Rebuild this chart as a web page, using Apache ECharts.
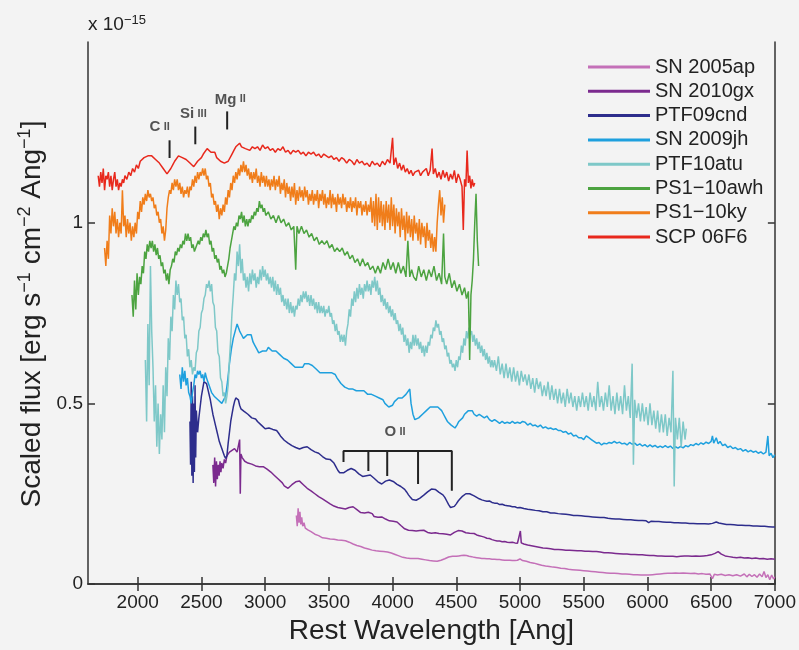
<!DOCTYPE html>
<html>
<head>
<meta charset="utf-8">
<script src="https://cdn.jsdelivr.net/npm/echarts@6/dist/echarts.min.js"></script>
<style>
html,body{margin:0;padding:0;background:#f3f3f3;}
#chart{width:799px;height:650px;}
</style>
</head>
<body>
<div id="chart"></div>
<script>
// ---------- data (wavelength [Ang], scaled flux x1e-15) ----------
const seriesNames = ['SN 2005ap','SN 2010gx','PTF09cnd','SN 2009jh','PTF10atu','PS1\u221210awh','PS1\u221210ky','SCP 06F6'];
const xTicks = [2000,2500,3000,3500,4000,4500,5000,5500,6000,6500,7000];
const yTicks = [0,0.5,1];

const sn2005ap = [[3245,0.19],[3252,0.16],[3259,0.21],[3266,0.17],[3273,0.20],[3280,0.165],[3287,0.185],[3295,0.16],[3305,0.17],[3315,0.155],[3325,0.16],[3335,0.15],[3345,0.152],[3360,0.145],[3375,0.142],[3390,0.138],[3405,0.136],[3420,0.134],[3435,0.131],[3450,0.128],[3465,0.13],[3480,0.127],[3495,0.128],[3510,0.125],[3525,0.127],[3540,0.124],[3555,0.125],[3570,0.122],[3585,0.12],[3600,0.121],[3615,0.119],[3630,0.12],[3645,0.117],[3660,0.116],[3675,0.113],[3690,0.111],[3705,0.109],[3720,0.107],[3735,0.106],[3750,0.104],[3765,0.102],[3780,0.1],[3795,0.099],[3810,0.097],[3825,0.096],[3840,0.094],[3855,0.093],[3870,0.092],[3885,0.093],[3900,0.091],[3915,0.092],[3930,0.09],[3945,0.091],[3960,0.089],[3975,0.088],[3990,0.086],[4005,0.084],[4020,0.082],[4035,0.08],[4050,0.078],[4065,0.076],[4080,0.074],[4095,0.073],[4110,0.072],[4125,0.071],[4140,0.071],[4155,0.07],[4170,0.071],[4185,0.07],[4200,0.071],[4215,0.07],[4230,0.069],[4245,0.068],[4260,0.067],[4275,0.066],[4290,0.065],[4305,0.064],[4320,0.064],[4335,0.063],[4350,0.063],[4365,0.064],[4380,0.066],[4395,0.068],[4410,0.07],[4425,0.073],[4440,0.075],[4455,0.077],[4470,0.077],[4485,0.078],[4500,0.077],[4520,0.078],[4540,0.079],[4560,0.08],[4580,0.079],[4600,0.077],[4620,0.076],[4640,0.074],[4660,0.073],[4680,0.072],[4700,0.071],[4720,0.071],[4740,0.07],[4760,0.07],[4780,0.069],[4800,0.069],[4820,0.068],[4840,0.068],[4860,0.067],[4880,0.066],[4900,0.066],[4920,0.066],[4940,0.065],[4960,0.065],[4980,0.066],[5000,0.07],[5020,0.065],[5050,0.063],[5080,0.06],[5110,0.058],[5140,0.055],[5170,0.052],[5200,0.05],[5230,0.049],[5260,0.047],[5290,0.046],[5320,0.044],[5350,0.043],[5380,0.041],[5410,0.04],[5440,0.039],[5470,0.038],[5500,0.037],[5530,0.036],[5560,0.035],[5590,0.034],[5620,0.033],[5650,0.032],[5680,0.031],[5710,0.03],[5740,0.03],[5770,0.029],[5800,0.028],[5830,0.028],[5860,0.027],[5890,0.026],[5920,0.026],[5950,0.025],[5980,0.025],[6010,0.025],[6040,0.026],[6070,0.027],[6100,0.028],[6130,0.029],[6160,0.03],[6190,0.03],[6220,0.031],[6250,0.03],[6280,0.031],[6310,0.03],[6340,0.029],[6370,0.03],[6400,0.028],[6430,0.029],[6460,0.027],[6490,0.028],[6510,0.015],[6525,0.027],[6550,0.025],[6580,0.027],[6610,0.024],[6640,0.026],[6670,0.023],[6700,0.026],[6730,0.022],[6760,0.028],[6780,0.02],[6800,0.027],[6820,0.021],[6840,0.026],[6860,0.019],[6880,0.028],[6900,0.02],[6915,0.035],[6930,0.018],[6945,0.026],[6960,0.012],[6975,0.025],[6990,0.014],[7000,0.02]];

const sn2010gx = [[2590,0.33],[2597,0.28],[2604,0.35],[2611,0.27],[2618,0.34],[2625,0.29],[2632,0.33],[2639,0.30],[2646,0.34],[2653,0.31],[2660,0.335],[2670,0.32],[2680,0.345],[2690,0.335],[2700,0.355],[2710,0.35],[2720,0.365],[2730,0.36],[2740,0.37],[2750,0.365],[2760,0.375],[2770,0.37],[2780,0.365],[2790,0.36],[2800,0.40],[2805,0.25],[2810,0.36],[2820,0.35],[2830,0.345],[2840,0.34],[2850,0.338],[2865,0.335],[2880,0.338],[2895,0.332],[2910,0.33],[2925,0.327],[2940,0.33],[2955,0.325],[2970,0.322],[2985,0.325],[3000,0.32],[3015,0.318],[3030,0.315],[3045,0.31],[3060,0.305],[3075,0.3],[3090,0.295],[3105,0.29],[3120,0.285],[3135,0.28],[3150,0.272],[3165,0.268],[3180,0.265],[3195,0.27],[3210,0.275],[3225,0.28],[3240,0.283],[3255,0.28],[3270,0.285],[3285,0.28],[3300,0.275],[3315,0.27],[3330,0.265],[3345,0.262],[3360,0.258],[3375,0.255],[3390,0.25],[3405,0.246],[3420,0.242],[3435,0.238],[3450,0.236],[3465,0.232],[3480,0.229],[3495,0.226],[3510,0.222],[3525,0.219],[3540,0.216],[3555,0.214],[3570,0.212],[3585,0.21],[3600,0.21],[3615,0.212],[3630,0.208],[3645,0.21],[3660,0.212],[3675,0.209],[3690,0.214],[3705,0.211],[3720,0.206],[3735,0.203],[3750,0.198],[3765,0.2],[3780,0.197],[3795,0.202],[3810,0.199],[3825,0.2],[3840,0.195],[3855,0.187],[3870,0.183],[3885,0.185],[3900,0.188],[3915,0.186],[3930,0.184],[3945,0.18],[3960,0.177],[3975,0.175],[3990,0.177],[4005,0.174],[4020,0.176],[4035,0.172],[4050,0.168],[4065,0.162],[4080,0.157],[4095,0.153],[4110,0.15],[4125,0.149],[4140,0.151],[4155,0.148],[4170,0.15],[4185,0.147],[4200,0.15],[4215,0.148],[4230,0.146],[4245,0.149],[4260,0.145],[4275,0.143],[4290,0.146],[4305,0.141],[4320,0.139],[4335,0.142],[4350,0.137],[4365,0.14],[4380,0.136],[4395,0.139],[4410,0.135],[4425,0.138],[4440,0.134],[4455,0.136],[4470,0.14],[4485,0.143],[4500,0.146],[4515,0.148],[4530,0.149],[4545,0.147],[4560,0.144],[4575,0.142],[4590,0.14],[4605,0.141],[4620,0.139],[4640,0.14],[4660,0.136],[4680,0.134],[4700,0.132],[4720,0.13],[4740,0.127],[4760,0.126],[4780,0.123],[4800,0.121],[4820,0.119],[4840,0.119],[4860,0.117],[4880,0.118],[4900,0.116],[4920,0.115],[4940,0.116],[4960,0.114],[4980,0.113],[4995,0.115],[5003,0.147],[5010,0.114],[5030,0.111],[5060,0.108],[5090,0.106],[5120,0.104],[5150,0.102],[5180,0.1],[5210,0.099],[5240,0.098],[5270,0.096],[5300,0.096],[5330,0.095],[5360,0.094],[5390,0.094],[5420,0.093],[5450,0.092],[5480,0.092],[5510,0.091],[5540,0.091],[5570,0.09],[5600,0.09],[5630,0.089],[5660,0.087],[5690,0.087],[5720,0.086],[5750,0.085],[5780,0.084],[5810,0.083],[5840,0.083],[5870,0.082],[5900,0.082],[5930,0.081],[5960,0.081],[5990,0.08],[6020,0.079],[6050,0.079],[6080,0.078],[6110,0.078],[6140,0.077],[6170,0.077],[6200,0.077],[6230,0.076],[6260,0.077],[6290,0.078],[6320,0.078],[6350,0.077],[6380,0.078],[6410,0.077],[6440,0.078],[6470,0.079],[6500,0.081],[6530,0.085],[6555,0.09],[6580,0.083],[6610,0.078],[6640,0.076],[6670,0.074],[6700,0.073],[6730,0.074],[6760,0.072],[6790,0.073],[6820,0.071],[6850,0.072],[6880,0.07],[6910,0.071],[6940,0.069],[6970,0.07],[7000,0.069]];

const ptf09cnd = [[2410,0.45],[2415,0.33],[2420,0.56],[2425,0.30],[2430,0.52],[2435,0.28],[2440,0.50],[2445,0.31],[2450,0.55],[2455,0.35],[2460,0.48],[2470,0.42],[2480,0.46],[2490,0.49],[2500,0.52],[2510,0.54],[2520,0.56],[2530,0.565],[2540,0.555],[2550,0.54],[2560,0.535],[2570,0.51],[2580,0.49],[2590,0.47],[2600,0.455],[2610,0.44],[2620,0.425],[2630,0.41],[2640,0.395],[2650,0.385],[2660,0.375],[2670,0.365],[2680,0.355],[2690,0.348],[2700,0.355],[2710,0.39],[2720,0.42],[2730,0.45],[2740,0.47],[2750,0.49],[2760,0.505],[2770,0.515],[2780,0.52],[2790,0.51],[2800,0.495],[2810,0.485],[2820,0.48],[2835,0.478],[2850,0.475],[2865,0.47],[2880,0.465],[2895,0.46],[2910,0.455],[2925,0.457],[2940,0.45],[2955,0.445],[2970,0.44],[2985,0.435],[3000,0.43],[3015,0.428],[3030,0.432],[3045,0.43],[3060,0.428],[3075,0.432],[3090,0.425],[3105,0.418],[3120,0.41],[3135,0.405],[3150,0.398],[3165,0.393],[3180,0.39],[3195,0.385],[3210,0.383],[3225,0.38],[3240,0.378],[3255,0.376],[3270,0.374],[3285,0.373],[3300,0.378],[3315,0.383],[3330,0.38],[3345,0.378],[3360,0.372],[3375,0.368],[3390,0.366],[3405,0.365],[3420,0.362],[3435,0.358],[3450,0.353],[3465,0.35],[3480,0.346],[3495,0.343],[3510,0.345],[3525,0.342],[3540,0.335],[3555,0.325],[3570,0.315],[3585,0.308],[3600,0.305],[3615,0.308],[3630,0.313],[3645,0.315],[3660,0.318],[3675,0.32],[3690,0.318],[3705,0.315],[3720,0.31],[3735,0.305],[3750,0.3],[3765,0.298],[3780,0.297],[3795,0.3],[3810,0.305],[3825,0.302],[3840,0.298],[3855,0.293],[3870,0.288],[3885,0.283],[3900,0.279],[3915,0.277],[3930,0.28],[3945,0.285],[3960,0.289],[3975,0.288],[3990,0.286],[4005,0.284],[4020,0.28],[4035,0.276],[4050,0.272],[4065,0.27],[4080,0.267],[4095,0.262],[4110,0.255],[4125,0.247],[4140,0.24],[4155,0.234],[4170,0.231],[4185,0.232],[4200,0.235],[4215,0.238],[4230,0.242],[4245,0.246],[4260,0.25],[4275,0.255],[4290,0.26],[4305,0.263],[4320,0.264],[4335,0.262],[4350,0.258],[4365,0.254],[4380,0.25],[4395,0.247],[4410,0.24],[4425,0.23],[4440,0.22],[4455,0.212],[4470,0.21],[4485,0.215],[4500,0.222],[4515,0.23],[4530,0.236],[4545,0.242],[4560,0.247],[4575,0.25],[4590,0.252],[4605,0.25],[4620,0.248],[4640,0.244],[4660,0.24],[4680,0.236],[4700,0.233],[4720,0.231],[4740,0.229],[4760,0.23],[4780,0.226],[4800,0.224],[4820,0.224],[4840,0.22],[4860,0.221],[4880,0.218],[4900,0.217],[4920,0.216],[4940,0.214],[4960,0.214],[4980,0.211],[5000,0.212],[5030,0.209],[5060,0.207],[5090,0.206],[5120,0.204],[5150,0.203],[5180,0.2],[5210,0.2],[5240,0.197],[5270,0.197],[5300,0.195],[5330,0.194],[5360,0.193],[5390,0.192],[5420,0.19],[5450,0.19],[5480,0.189],[5510,0.188],[5540,0.187],[5570,0.186],[5600,0.185],[5630,0.184],[5660,0.184],[5690,0.182],[5720,0.181],[5750,0.18],[5780,0.18],[5810,0.179],[5840,0.178],[5870,0.178],[5900,0.177],[5930,0.176],[5960,0.176],[5990,0.175],[6010,0.17],[6030,0.174],[6060,0.173],[6090,0.173],[6120,0.172],[6150,0.171],[6180,0.171],[6210,0.17],[6240,0.17],[6270,0.169],[6300,0.169],[6330,0.168],[6360,0.168],[6390,0.167],[6420,0.167],[6450,0.167],[6480,0.166],[6510,0.168],[6540,0.172],[6560,0.169],[6590,0.167],[6620,0.165],[6650,0.165],[6680,0.164],[6710,0.163],[6740,0.163],[6770,0.162],[6800,0.162],[6830,0.161],[6860,0.161],[6890,0.16],[6920,0.16],[6950,0.159],[6980,0.158],[7000,0.158]];

const sn2009jh = [[2330,0.58],[2340,0.54],[2350,0.60],[2360,0.56],[2370,0.59],[2380,0.55],[2390,0.57],[2400,0.53],[2410,0.52],[2420,0.50],[2430,0.53],[2440,0.55],[2450,0.58],[2460,0.57],[2470,0.59],[2480,0.58],[2490,0.59],[2500,0.57],[2510,0.58],[2520,0.56],[2530,0.585],[2540,0.57],[2550,0.56],[2560,0.55],[2570,0.545],[2580,0.53],[2590,0.535],[2600,0.52],[2615,0.525],[2630,0.51],[2645,0.505],[2660,0.50],[2675,0.505],[2690,0.52],[2705,0.56],[2720,0.61],[2735,0.65],[2750,0.68],[2765,0.70],[2780,0.72],[2790,0.71],[2800,0.70],[2815,0.69],[2830,0.68],[2845,0.675],[2860,0.69],[2875,0.695],[2890,0.69],[2905,0.67],[2920,0.66],[2935,0.65],[2950,0.64],[2965,0.635],[2980,0.645],[2995,0.65],[3010,0.645],[3025,0.655],[3040,0.65],[3055,0.645],[3070,0.65],[3085,0.645],[3100,0.64],[3115,0.635],[3130,0.63],[3145,0.625],[3160,0.63],[3175,0.62],[3190,0.615],[3205,0.61],[3220,0.605],[3235,0.60],[3250,0.605],[3265,0.60],[3280,0.605],[3295,0.60],[3310,0.61],[3325,0.615],[3340,0.61],[3355,0.61],[3370,0.605],[3385,0.60],[3400,0.595],[3415,0.59],[3430,0.585],[3445,0.58],[3460,0.585],[3475,0.58],[3490,0.585],[3505,0.59],[3520,0.585],[3535,0.58],[3550,0.58],[3565,0.57],[3580,0.565],[3595,0.555],[3610,0.55],[3625,0.545],[3640,0.545],[3655,0.54],[3670,0.545],[3685,0.54],[3700,0.545],[3715,0.535],[3730,0.54],[3745,0.535],[3760,0.53],[3775,0.535],[3790,0.53],[3805,0.525],[3820,0.53],[3835,0.525],[3850,0.525],[3865,0.52],[3880,0.52],[3895,0.515],[3910,0.52],[3925,0.51],[3940,0.50],[3955,0.495],[3970,0.49],[3985,0.49],[4000,0.495],[4015,0.505],[4030,0.51],[4045,0.515],[4060,0.52],[4075,0.515],[4090,0.52],[4105,0.525],[4120,0.52],[4135,0.54],[4145,0.50],[4160,0.47],[4175,0.455],[4190,0.45],[4205,0.46],[4220,0.465],[4235,0.47],[4250,0.475],[4265,0.48],[4280,0.485],[4295,0.49],[4310,0.495],[4325,0.49],[4340,0.495],[4355,0.49],[4370,0.485],[4385,0.48],[4400,0.47],[4415,0.46],[4430,0.45],[4445,0.445],[4460,0.44],[4475,0.435],[4490,0.432],[4505,0.44],[4520,0.45],[4535,0.455],[4550,0.46],[4565,0.47],[4580,0.475],[4595,0.48],[4610,0.475],[4625,0.48],[4640,0.47],[4660,0.465],[4680,0.47],[4700,0.465],[4720,0.46],[4740,0.465],[4760,0.455],[4780,0.45],[4800,0.455],[4820,0.45],[4840,0.445],[4860,0.45],[4880,0.445],[4900,0.448],[4920,0.445],[4940,0.45],[4960,0.445],[4980,0.448],[5000,0.445],[5020,0.45],[5040,0.448],[5060,0.44],[5080,0.445],[5100,0.438],[5120,0.44],[5140,0.435],[5160,0.44],[5180,0.432],[5200,0.435],[5220,0.43],[5240,0.432],[5260,0.428],[5280,0.43],[5300,0.425],[5320,0.425],[5340,0.42],[5360,0.422],[5380,0.415],[5400,0.418],[5420,0.41],[5440,0.412],[5460,0.405],[5480,0.405],[5500,0.40],[5520,0.41],[5540,0.405],[5560,0.4],[5580,0.395],[5600,0.39],[5620,0.392],[5640,0.385],[5660,0.39],[5680,0.388],[5700,0.392],[5720,0.39],[5740,0.395],[5760,0.39],[5780,0.393],[5800,0.388],[5820,0.39],[5840,0.385],[5860,0.392],[5880,0.387],[5900,0.39],[5920,0.384],[5940,0.388],[5960,0.382],[5980,0.386],[6000,0.38],[6020,0.385],[6040,0.38],[6060,0.384],[6080,0.378],[6100,0.382],[6120,0.378],[6140,0.383],[6160,0.378],[6180,0.382],[6200,0.375],[6220,0.38],[6240,0.376],[6260,0.381],[6280,0.377],[6300,0.383],[6320,0.38],[6340,0.386],[6360,0.383],[6380,0.389],[6400,0.385],[6420,0.391],[6440,0.387],[6460,0.393],[6480,0.389],[6500,0.395],[6510,0.41],[6520,0.39],[6540,0.405],[6555,0.388],[6570,0.395],[6590,0.383],[6610,0.387],[6630,0.378],[6650,0.382],[6670,0.375],[6690,0.378],[6710,0.372],[6730,0.375],[6750,0.368],[6770,0.372],[6790,0.366],[6810,0.37],[6830,0.365],[6850,0.368],[6870,0.362],[6890,0.366],[6910,0.36],[6930,0.365],[6945,0.41],[6955,0.355],[6970,0.362],[6985,0.35],[7000,0.358]];

const ptf10atu = [[2060,0.62],[2070,0.45],[2080,0.72],[2090,0.55],[2100,0.88],[2110,0.70],[2120,0.60],[2130,0.45],[2140,0.55],[2150,0.38],[2160,0.50],[2170,0.36],[2180,0.47],[2190,0.40],[2200,0.55],[2210,0.42],[2220,0.60],[2230,0.52],[2240,0.68],[2250,0.62],[2260,0.74],[2270,0.70],[2280,0.80],[2290,0.76],[2300,0.84],[2310,0.80],[2320,0.83],[2330,0.78],[2340,0.79],[2350,0.73],[2360,0.74],[2370,0.68],[2380,0.69],[2390,0.63],[2400,0.65],[2410,0.60],[2420,0.62],[2430,0.58],[2440,0.60],[2450,0.59],[2460,0.64],[2470,0.65],[2480,0.70],[2490,0.71],[2500,0.75],[2510,0.76],[2520,0.79],[2530,0.80],[2540,0.83],[2550,0.82],[2560,0.84],[2570,0.81],[2580,0.83],[2590,0.78],[2600,0.77],[2610,0.71],[2620,0.70],[2630,0.64],[2640,0.63],[2650,0.57],[2660,0.56],[2670,0.52],[2680,0.53],[2690,0.50],[2700,0.52],[2710,0.55],[2720,0.62],[2730,0.68],[2740,0.75],[2750,0.80],[2760,0.86],[2770,0.84],[2780,0.92],[2790,0.88],[2800,0.94],[2810,0.86],[2820,0.90],[2830,0.84],[2840,0.86],[2850,0.82],[2860,0.85],[2870,0.81],[2880,0.86],[2890,0.83],[2900,0.87],[2910,0.84],[2920,0.86],[2930,0.82],[2940,0.85],[2950,0.83],[2960,0.87],[2970,0.84],[2980,0.88],[2990,0.85],[3000,0.87],[3010,0.84],[3020,0.86],[3030,0.83],[3040,0.85],[3050,0.82],[3060,0.85],[3070,0.81],[3080,0.84],[3090,0.80],[3100,0.83],[3110,0.80],[3120,0.82],[3130,0.78],[3140,0.80],[3150,0.77],[3160,0.79],[3170,0.76],[3180,0.79],[3190,0.75],[3200,0.78],[3210,0.75],[3220,0.77],[3230,0.74],[3240,0.77],[3250,0.76],[3260,0.79],[3270,0.77],[3280,0.80],[3290,0.78],[3300,0.81],[3310,0.79],[3320,0.81],[3330,0.78],[3340,0.80],[3350,0.77],[3360,0.80],[3370,0.77],[3380,0.79],[3390,0.76],[3400,0.78],[3410,0.75],[3420,0.78],[3430,0.75],[3440,0.77],[3450,0.75],[3460,0.77],[3470,0.74],[3480,0.76],[3490,0.75],[3500,0.77],[3510,0.74],[3520,0.75],[3530,0.72],[3540,0.73],[3550,0.70],[3560,0.72],[3570,0.69],[3580,0.70],[3590,0.67],[3600,0.69],[3610,0.67],[3620,0.69],[3630,0.66],[3640,0.70],[3650,0.72],[3660,0.76],[3670,0.74],[3680,0.79],[3690,0.77],[3700,0.81],[3710,0.78],[3720,0.82],[3730,0.79],[3740,0.83],[3750,0.80],[3760,0.82],[3770,0.79],[3780,0.83],[3790,0.81],[3800,0.84],[3810,0.81],[3820,0.83],[3830,0.80],[3840,0.84],[3850,0.82],[3860,0.85],[3870,0.81],[3880,0.84],[3890,0.80],[3900,0.82],[3910,0.78],[3920,0.80],[3930,0.77],[3940,0.79],[3950,0.76],[3960,0.78],[3970,0.75],[3980,0.77],[3990,0.74],[4000,0.76],[4010,0.73],[4020,0.75],[4030,0.72],[4040,0.73],[4050,0.70],[4060,0.72],[4070,0.69],[4080,0.71],[4090,0.67],[4100,0.69],[4110,0.66],[4120,0.68],[4130,0.64],[4140,0.67],[4150,0.65],[4160,0.69],[4170,0.66],[4180,0.69],[4190,0.66],[4200,0.68],[4210,0.65],[4220,0.67],[4230,0.64],[4240,0.66],[4250,0.63],[4260,0.66],[4270,0.64],[4280,0.67],[4290,0.66],[4300,0.69],[4310,0.68],[4320,0.71],[4330,0.70],[4340,0.73],[4350,0.71],[4360,0.72],[4370,0.69],[4380,0.70],[4390,0.67],[4400,0.68],[4410,0.65],[4420,0.66],[4430,0.63],[4440,0.64],[4450,0.61],[4460,0.62],[4470,0.60],[4480,0.61],[4490,0.59],[4500,0.62],[4510,0.60],[4520,0.63],[4530,0.62],[4540,0.66],[4550,0.64],[4560,0.68],[4570,0.66],[4580,0.70],[4590,0.68],[4600,0.71],[4610,0.69],[4620,0.70],[4630,0.67],[4640,0.69],[4650,0.66],[4660,0.68],[4670,0.65],[4680,0.67],[4690,0.64],[4700,0.66],[4710,0.63],[4720,0.65],[4730,0.62],[4740,0.64],[4750,0.61],[4760,0.63],[4770,0.60],[4780,0.62],[4790,0.60],[4800,0.62],[4815,0.59],[4830,0.63],[4845,0.58],[4860,0.61],[4875,0.57],[4890,0.61],[4905,0.57],[4920,0.60],[4935,0.56],[4950,0.60],[4965,0.56],[4980,0.59],[4995,0.55],[5010,0.59],[5025,0.56],[5040,0.58],[5055,0.55],[5070,0.58],[5085,0.54],[5100,0.57],[5115,0.53],[5130,0.57],[5145,0.54],[5160,0.56],[5175,0.52],[5190,0.55],[5205,0.52],[5220,0.56],[5235,0.51],[5250,0.55],[5265,0.51],[5280,0.54],[5295,0.50],[5310,0.54],[5325,0.50],[5340,0.53],[5355,0.49],[5370,0.54],[5385,0.50],[5400,0.53],[5415,0.49],[5430,0.52],[5445,0.48],[5460,0.52],[5475,0.49],[5490,0.53],[5505,0.49],[5520,0.52],[5535,0.48],[5550,0.53],[5565,0.49],[5580,0.52],[5595,0.48],[5610,0.56],[5625,0.49],[5640,0.52],[5655,0.48],[5670,0.53],[5685,0.49],[5700,0.55],[5715,0.48],[5730,0.52],[5745,0.47],[5760,0.53],[5775,0.48],[5790,0.52],[5805,0.47],[5820,0.55],[5835,0.48],[5850,0.52],[5865,0.46],[5880,0.61],[5890,0.33],[5900,0.51],[5915,0.46],[5930,0.50],[5945,0.45],[5960,0.50],[5975,0.45],[5990,0.49],[6005,0.44],[6020,0.50],[6035,0.44],[6050,0.48],[6065,0.43],[6080,0.48],[6095,0.42],[6110,0.47],[6125,0.42],[6140,0.47],[6155,0.41],[6170,0.46],[6185,0.42],[6200,0.59],[6210,0.27],[6220,0.46],[6235,0.40],[6250,0.46],[6265,0.38],[6280,0.45],[6295,0.40],[6305,0.43]];

const ps1_10awh = [[1955,0.80],[1965,0.74],[1975,0.84],[1985,0.76],[1995,0.86],[2005,0.80],[2015,0.85],[2025,0.83],[2035,0.88],[2045,0.86],[2055,0.92],[2065,0.90],[2075,0.94],[2085,0.92],[2095,0.95],[2105,0.93],[2115,0.95],[2125,0.92],[2135,0.94],[2145,0.91],[2155,0.93],[2165,0.90],[2175,0.91],[2185,0.88],[2195,0.89],[2205,0.86],[2215,0.87],[2225,0.84],[2235,0.86],[2245,0.83],[2255,0.87],[2265,0.88],[2275,0.90],[2285,0.89],[2295,0.92],[2305,0.91],[2315,0.93],[2325,0.92],[2335,0.94],[2345,0.93],[2355,0.95],[2365,0.94],[2375,0.97],[2385,0.95],[2395,0.97],[2405,0.95],[2415,0.96],[2425,0.93],[2435,0.94],[2445,0.92],[2455,0.93],[2465,0.94],[2475,0.95],[2485,0.94],[2495,0.96],[2505,0.95],[2515,0.97],[2525,0.96],[2535,0.98],[2545,0.96],[2555,0.97],[2565,0.94],[2575,0.95],[2585,0.92],[2595,0.93],[2605,0.90],[2615,0.91],[2625,0.89],[2635,0.90],[2645,0.87],[2655,0.88],[2665,0.86],[2675,0.87],[2685,0.85],[2695,0.86],[2705,0.88],[2715,0.90],[2725,0.93],[2735,0.95],[2745,0.97],[2755,0.99],[2765,0.98],[2775,1.00],[2785,0.99],[2795,1.02],[2805,1.01],[2815,1.03],[2825,1.00],[2835,1.02],[2845,0.99],[2855,1.01],[2865,0.99],[2875,1.01],[2885,1.00],[2895,1.02],[2905,1.01],[2915,1.03],[2925,1.02],[2935,1.04],[2945,1.03],[2955,1.06],[2965,1.04],[2975,1.05],[2985,1.03],[2995,1.04],[3005,1.02],[3025,1.03],[3045,1.01],[3065,1.02],[3085,1.00],[3105,1.02],[3125,1.00],[3145,1.01],[3165,0.99],[3185,1.00],[3205,0.98],[3225,0.99],[3240,0.87],[3250,0.99],[3265,0.97],[3285,0.99],[3305,0.97],[3325,0.98],[3345,0.96],[3365,0.97],[3385,0.95],[3405,0.96],[3425,0.94],[3445,0.95],[3465,0.94],[3485,0.95],[3505,0.93],[3525,0.94],[3545,0.92],[3565,0.93],[3585,0.92],[3605,0.93],[3625,0.91],[3645,0.92],[3665,0.90],[3685,0.91],[3705,0.89],[3725,0.90],[3745,0.88],[3765,0.90],[3785,0.88],[3805,0.89],[3825,0.87],[3845,0.88],[3865,0.86],[3885,0.88],[3905,0.86],[3925,0.89],[3945,0.87],[3965,0.90],[3985,0.87],[4005,0.89],[4025,0.86],[4045,0.89],[4065,0.86],[4085,0.88],[4105,0.85],[4120,0.95],[4135,0.85],[4150,0.87],[4165,0.85],[4185,0.84],[4205,0.88],[4225,0.85],[4245,0.87],[4265,0.84],[4285,0.87],[4305,0.85],[4325,0.88],[4345,0.84],[4365,0.86],[4385,0.83],[4400,0.97],[4410,0.85],[4425,0.83],[4445,0.86],[4465,0.82],[4485,0.84],[4505,0.81],[4525,0.83],[4545,0.80],[4565,0.82],[4580,0.79],[4595,0.81],[4605,0.62],[4615,0.80],[4625,0.84],[4635,0.90],[4645,1.00],[4655,1.08],[4665,0.95],[4675,0.88]];

const ps1_10ky = [[1740,0.93],[1750,0.88],[1760,0.95],[1770,0.90],[1780,1.02],[1790,0.97],[1800,1.04],[1810,0.99],[1820,1.03],[1830,0.97],[1840,1.01],[1850,0.96],[1860,1.00],[1870,0.97],[1880,1.09],[1890,0.99],[1900,1.02],[1910,0.96],[1920,1.01],[1930,0.97],[1940,1.00],[1950,0.95],[1960,0.99],[1970,0.96],[1980,1.00],[1990,0.97],[2000,1.03],[2010,1.01],[2020,1.06],[2030,1.03],[2040,1.07],[2050,1.05],[2060,1.08],[2070,1.06],[2080,1.09],[2090,1.07],[2100,1.08],[2110,1.06],[2120,1.07],[2130,1.04],[2140,1.05],[2150,1.02],[2160,1.03],[2170,1.00],[2180,1.01],[2190,0.97],[2200,0.99],[2210,0.95],[2220,0.98],[2230,1.04],[2240,1.07],[2250,1.09],[2260,1.08],[2270,1.11],[2280,1.09],[2290,1.12],[2300,1.10],[2310,1.12],[2320,1.09],[2330,1.11],[2340,1.08],[2350,1.10],[2360,1.07],[2370,1.09],[2380,1.08],[2390,1.10],[2400,1.07],[2410,1.10],[2420,1.09],[2430,1.12],[2440,1.10],[2450,1.13],[2460,1.11],[2470,1.14],[2480,1.12],[2490,1.14],[2500,1.13],[2510,1.15],[2520,1.13],[2530,1.15],[2540,1.12],[2550,1.13],[2560,1.10],[2570,1.11],[2580,1.07],[2590,1.08],[2600,1.05],[2610,1.06],[2620,1.03],[2630,1.05],[2640,1.01],[2650,1.04],[2660,1.02],[2670,1.05],[2680,1.03],[2690,1.07],[2700,1.05],[2710,1.09],[2720,1.07],[2730,1.11],[2740,1.09],[2750,1.13],[2760,1.11],[2770,1.14],[2780,1.12],[2790,1.15],[2800,1.13],[2810,1.16],[2820,1.14],[2830,1.17],[2840,1.14],[2850,1.16],[2860,1.13],[2870,1.15],[2880,1.12],[2890,1.14],[2900,1.11],[2910,1.14],[2920,1.12],[2930,1.15],[2940,1.11],[2950,1.13],[2960,1.10],[2970,1.14],[2980,1.11],[2990,1.13],[3000,1.10],[3010,1.13],[3020,1.10],[3030,1.12],[3040,1.09],[3050,1.12],[3060,1.10],[3070,1.13],[3080,1.09],[3090,1.12],[3100,1.10],[3110,1.13],[3120,1.08],[3130,1.11],[3140,1.09],[3150,1.12],[3160,1.07],[3170,1.11],[3180,1.08],[3190,1.10],[3200,1.06],[3210,1.10],[3220,1.07],[3230,1.11],[3240,1.05],[3250,1.09],[3260,1.06],[3270,1.10],[3280,1.07],[3290,1.09],[3300,1.06],[3310,1.10],[3320,1.07],[3330,1.09],[3340,1.05],[3350,1.08],[3360,1.06],[3370,1.09],[3380,1.05],[3390,1.08],[3400,1.06],[3410,1.09],[3420,1.04],[3430,1.08],[3440,1.06],[3450,1.09],[3460,1.05],[3470,1.08],[3480,1.04],[3490,1.07],[3500,1.05],[3510,1.09],[3520,1.04],[3530,1.08],[3540,1.05],[3550,1.07],[3560,1.03],[3570,1.08],[3580,1.05],[3590,1.07],[3600,1.04],[3610,1.08],[3620,1.05],[3630,1.07],[3640,1.03],[3650,1.06],[3660,1.04],[3670,1.07],[3680,1.03],[3690,1.06],[3700,1.04],[3710,1.07],[3720,1.02],[3730,1.06],[3740,1.04],[3750,1.06],[3760,1.02],[3770,1.05],[3780,1.03],[3790,1.06],[3800,1.02],[3810,1.05],[3820,1.03],[3830,1.07],[3840,1.00],[3850,1.06],[3860,0.99],[3870,1.08],[3880,0.98],[3890,1.07],[3900,1.00],[3910,1.06],[3920,0.99],[3930,1.05],[3940,0.98],[3950,1.06],[3960,1.00],[3970,1.05],[3980,0.98],[3990,1.07],[4000,0.99],[4010,1.05],[4020,0.97],[4030,1.04],[4040,0.99],[4050,1.03],[4060,0.96],[4070,1.04],[4080,0.98],[4090,1.02],[4100,0.95],[4110,1.03],[4120,0.97],[4130,1.02],[4140,0.96],[4150,1.01],[4160,0.95],[4170,1.02],[4180,0.97],[4190,1.00],[4200,0.95],[4210,1.01],[4220,0.94],[4230,1.00],[4240,0.96],[4250,0.99],[4260,0.93],[4270,1.00],[4280,0.95],[4290,0.98],[4300,0.93],[4310,0.97],[4320,0.92],[4330,0.96],[4340,0.92],[4350,1.00],[4360,1.05],[4370,1.09],[4380,1.02],[4390,1.07],[4400,1.00],[4410,1.05]];

const scp06f6 = [[1690,1.13],[1700,1.10],[1710,1.14],[1720,1.11],[1730,1.15],[1740,1.09],[1750,1.13],[1760,1.12],[1770,1.14],[1780,1.10],[1790,1.13],[1800,1.09],[1810,1.12],[1820,1.14],[1830,1.10],[1840,1.12],[1850,1.09],[1860,1.11],[1870,1.10],[1880,1.12],[1890,1.11],[1900,1.13],[1915,1.12],[1930,1.14],[1945,1.13],[1960,1.15],[1975,1.14],[1990,1.16],[2005,1.15],[2020,1.17],[2035,1.165],[2050,1.18],[2065,1.175],[2080,1.185],[2095,1.18],[2110,1.185],[2125,1.18],[2140,1.175],[2155,1.17],[2170,1.165],[2185,1.16],[2200,1.15],[2215,1.145],[2230,1.135],[2245,1.14],[2260,1.15],[2275,1.16],[2290,1.17],[2305,1.175],[2320,1.185],[2335,1.19],[2350,1.18],[2365,1.185],[2380,1.175],[2395,1.17],[2410,1.165],[2425,1.16],[2440,1.155],[2455,1.16],[2470,1.17],[2485,1.175],[2500,1.18],[2515,1.19],[2530,1.195],[2545,1.205],[2560,1.20],[2575,1.195],[2590,1.19],[2605,1.195],[2620,1.18],[2635,1.175],[2650,1.17],[2665,1.165],[2680,1.165],[2695,1.16],[2710,1.17],[2725,1.175],[2740,1.19],[2755,1.20],[2770,1.21],[2785,1.215],[2800,1.22],[2815,1.21],[2830,1.215],[2845,1.205],[2860,1.21],[2880,1.20],[2900,1.21],[2920,1.205],[2940,1.21],[2960,1.20],[2980,1.215],[3000,1.205],[3020,1.21],[3040,1.20],[3060,1.205],[3080,1.195],[3100,1.205],[3120,1.20],[3140,1.21],[3160,1.195],[3180,1.20],[3200,1.19],[3220,1.20],[3240,1.195],[3260,1.20],[3280,1.19],[3300,1.195],[3320,1.185],[3340,1.195],[3360,1.19],[3380,1.195],[3400,1.185],[3420,1.19],[3440,1.18],[3460,1.19],[3480,1.185],[3500,1.18],[3520,1.185],[3540,1.175],[3560,1.18],[3580,1.17],[3600,1.18],[3620,1.175],[3640,1.165],[3660,1.175],[3680,1.17],[3700,1.16],[3720,1.175],[3740,1.165],[3760,1.17],[3780,1.16],[3800,1.165],[3820,1.155],[3840,1.17],[3860,1.16],[3880,1.165],[3900,1.155],[3920,1.17],[3940,1.16],[3960,1.175],[3980,1.165],[4000,1.235],[4010,1.16],[4025,1.18],[4040,1.15],[4055,1.165],[4070,1.145],[4085,1.16],[4100,1.14],[4115,1.15],[4130,1.135],[4145,1.145],[4160,1.13],[4175,1.14],[4190,1.135],[4205,1.145],[4220,1.13],[4235,1.14],[4250,1.135],[4265,1.15],[4280,1.13],[4295,1.145],[4310,1.205],[4320,1.135],[4335,1.15],[4350,1.125],[4365,1.14],[4380,1.12],[4395,1.145],[4410,1.125],[4425,1.14],[4440,1.115],[4455,1.135],[4470,1.12],[4485,1.145],[4500,1.11],[4515,1.135],[4530,1.12],[4545,1.10],[4555,0.98],[4565,1.12],[4575,1.10],[4585,1.20],[4595,1.11],[4605,1.13],[4615,1.095],[4625,1.12],[4635,1.10],[4645,1.11]];

// line identifications: tick positions and label anchors (data units)
const lineIds = [
  {label:'{a|C} {b|II}', wl:2250, y0:1.179, y1:1.228, lx:2172, ly:1.266},
  {label:'{a|Si} {b|III}', wl:2452, y0:1.217, y1:1.266, lx:2437, ly:1.302},
  {label:'{a|Mg} {b|II}', wl:2702, y0:1.258, y1:1.308, lx:2726, ly:1.341}
];
const oiiBar = 0.368;
const oiiTicks = [[3615,0.338],[3810,0.313],[3958,0.299],[4200,0.277],[4465,0.258]];
const oiiLabel = [4020, 0.42];

// ---------- styles ----------
const seriesColors = ['#c470b8','#7b2a8e','#2d2d8c','#1ea0de','#7ec8c8','#4ca340','#f07d1a','#e8281c'];
const seriesData = [sn2005ap, sn2010gx, ptf09cnd, sn2009jh, ptf10atu, ps1_10awh, ps1_10ky, scp06f6];
const FONT = '"Liberation Sans", Arial, Helvetica, sans-serif';
const INK = '#222';

const series = seriesNames.map((n, i) => ({
  name: n, type: 'line', data: seriesData[i], showSymbol: false, symbol: 'none',
  lineStyle: {color: seriesColors[i], width: 1.5}, itemStyle: {color: seriesColors[i]},
  silent: true, animation: false, z: 2 + i
}));

// identification ticks
lineIds.forEach(d => {
  series.push({type:'line', data:[[d.wl,d.y0],[d.wl,d.y1]], symbol:'none', silent:true, animation:false,
    lineStyle:{color:'#222', width:2}, z:20});
});
const labelRich = {
  a:{fontSize:15, fontWeight:'bold', color:'#2a2a2a', fontFamily:FONT},
  b:{fontSize:11, fontWeight:'bold', color:'#2a2a2a', fontFamily:FONT}
};
series.push({type:'scatter', symbolSize:0, silent:true, animation:false, z:20,
  data: lineIds.map(d => ({value:[d.lx, d.ly], label:{show:true, formatter:d.label, position:'inside', rich:labelRich}}))
});
// O II bracket
const oiiPath = [];
oiiTicks.forEach((t, i) => {
  if (i === 0) { oiiPath.push([t[0], t[1]]); oiiPath.push([t[0], oiiBar]); }
  else { oiiPath.push([t[0], oiiBar]); oiiPath.push([t[0], t[1]]); if (i < oiiTicks.length - 1) oiiPath.push([t[0], oiiBar]); }
});
series.push({type:'line', data:oiiPath, symbol:'none', silent:true, animation:false, lineStyle:{color:'#222', width:2}, z:20});
series.push({type:'scatter', symbolSize:0, silent:true, animation:false, z:20,
  data:[{value:oiiLabel, label:{show:true, formatter:'{a|O} {b|II}', position:'inside', rich:labelRich}}]});

const axisCommon = {
  axisLine:{show:true, lineStyle:{color:'#333', width:1.5}},
  splitLine:{show:false}
};

const chart = echarts.init(document.getElementById('chart'), null, {renderer:'canvas'});
chart.setOption({
  backgroundColor:'#f3f3f3',
  animation:false,
  grid:{left:88, top:42, right:20, bottom:64, containLabel:false},
  legend:{
    data: seriesNames, orient:'vertical', left:588, top:55, padding:0, itemGap:0.3,
    itemWidth:62, itemHeight:3, icon:'rect',
    textStyle:{fontSize:20, fontFamily:FONT, color:INK, lineHeight:24}
  },
  xAxis:[
    Object.assign({type:'value', min:1610, max:7000, position:'bottom',
      axisTick:{show:true, inside:true, length:7, customValues:xTicks, lineStyle:{color:'#333', width:1.5}},
      axisLabel:{show:true, customValues:xTicks, fontSize:19, fontFamily:FONT, color:INK, margin:9,
        formatter: v => String(v)},
      name:'Rest Wavelength [Ang]', nameLocation:'middle', nameGap:25,
      nameTextStyle:{fontSize:28, fontFamily:FONT, color:INK}}, axisCommon),
    Object.assign({type:'value', min:1610, max:7000, position:'top',
      axisTick:{show:true, inside:true, length:7, customValues:xTicks, lineStyle:{color:'#333', width:1.5}},
      axisLabel:{show:false}}, axisCommon)
  ],
  yAxis:[
    Object.assign({type:'value', min:0, max:1.5, position:'left',
      axisTick:{show:true, inside:true, length:7, customValues:yTicks, lineStyle:{color:'#333', width:1.5}},
      axisLabel:{show:true, customValues:yTicks, fontSize:19, fontFamily:FONT, color:INK, margin:5,
        formatter: v => String(v)}}, axisCommon),
    Object.assign({type:'value', min:0, max:1.5, position:'right',
      axisTick:{show:true, inside:true, length:7, customValues:yTicks, lineStyle:{color:'#333', width:1.5}},
      axisLabel:{show:false}}, axisCommon)
  ],
  graphic:[
    {type:'text', x:32, y:314, rotation:Math.PI/2, silent:true,
      style:{text:'{n|Scaled flux [erg s}{s|\u22121}{n| cm}{s|\u22122}{n| Ang}{s|\u22121}{n|]}',
        align:'center', verticalAlign:'middle', fill:INK,
        rich:{n:{fontSize:28, fontFamily:FONT, fill:INK}, s:{fontSize:18, fontFamily:FONT, fill:INK, padding:[0,0,14,0]}}}},
    {type:'text', x:88, y:25, silent:true,
      style:{text:'{n|x 10}{s|\u221215}', align:'left', verticalAlign:'middle', fill:INK,
        rich:{n:{fontSize:19, fontFamily:FONT, fill:INK}, s:{fontSize:13, fontFamily:FONT, fill:INK, padding:[0,0,10,0]}}}}
  ],
  series: series
});
</script>
</body>
</html>
